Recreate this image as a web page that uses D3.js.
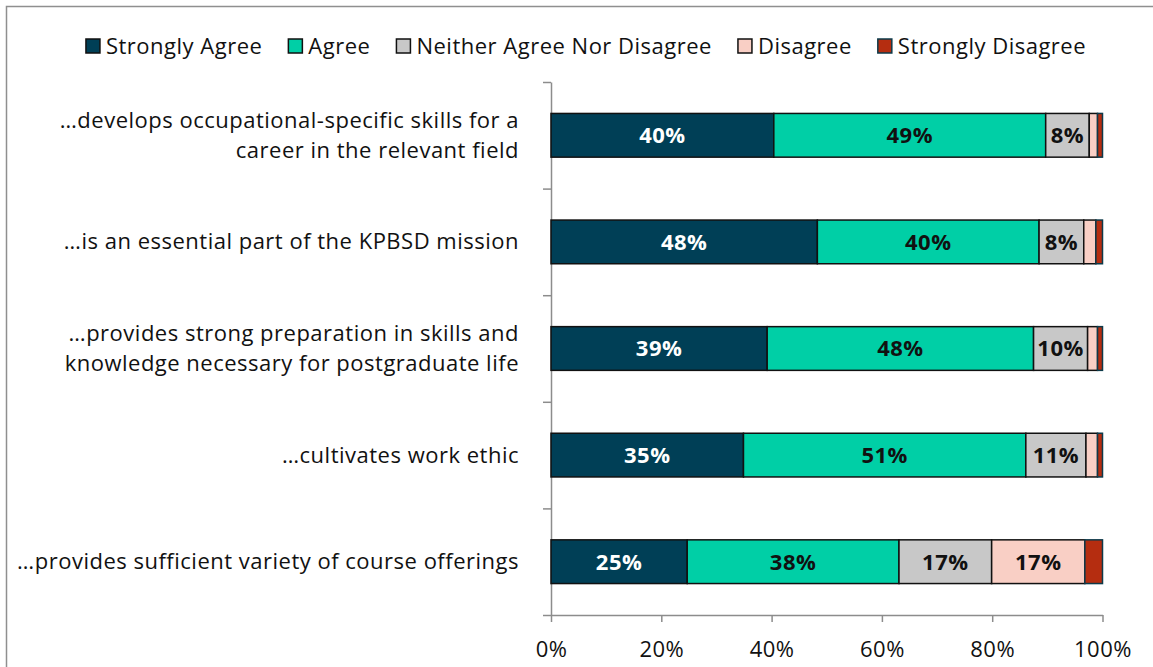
<!DOCTYPE html>
<html lang="en">
<head>
    <meta charset="UTF-8">
    <script src="https://d3js.org/d3.v7.min.js"></script>
    <title>Survey stacked bars</title>
    <style>
        body { margin: 0; background: #fff; }
        svg text { font-family: "Open Sans", Lato, sans-serif; letter-spacing: 0.5px; }
    </style>
</head>
<body>
    <script>
        const categories = [
            ["…develops occupational-specific skills for a", "career in the relevant field"],
            ["…is an essential part of the KPBSD mission"],
            ["…provides strong preparation in skills and", "knowledge necessary for postgraduate life"],
            ["…cultivates work ethic"],
            ["…provides sufficient variety of course offerings"]
        ];
        const seriesNames = ["Strongly Agree", "Agree", "Neither Agree Nor Disagree", "Disagree", "Strongly Disagree"];
        const stronglyAgree = [40.4, 48.3, 39.2, 34.9, 24.7];
        const agree = [49.3, 40.2, 48.3, 51.2, 38.4];
        const neither = [7.9, 8.1, 9.8, 10.9, 16.8];
        const disagree = [1.5, 2.2, 1.8, 2.1, 16.9];
        const stronglyDisagree = [0.9, 1.2, 0.9, 0.9, 3.2];
        const xTicks = [0, 20, 40, 60, 80, 100];

        const colors = ["#003f56", "#00cfa6", "#c8c8c8", "#f9cfc5", "#b52d10"];
        const strokes = ["#111", "#111", "#111", "#111", "#0d3a4a"];
        const labelColors = ["#fff", "#111", "#111", "#111", "#fff"];

        const width = 1153, height = 667;
        const margin = {top: 82, right: 50, bottom: 52, left: 551};
        const fs = 22;

        const rows = categories.map((c, i) => ({
            key: i,
            "Strongly Agree": stronglyAgree[i],
            "Agree": agree[i],
            "Neither Agree Nor Disagree": neither[i],
            "Disagree": disagree[i],
            "Strongly Disagree": stronglyDisagree[i]
        }));
        const stacked = d3.stack().keys(seriesNames)(rows);

        const x = d3.scaleLinear()
            .domain([0, 100])
            .range([margin.left, 1102.5]);

        const y = d3.scaleBand()
            .domain(d3.range(categories.length))
            .range([margin.top, height - margin.bottom])
            .paddingInner(0.59)
            .paddingOuter(0.295);

        const yEdge = d3.scaleLinear()
            .domain([0, categories.length])
            .range([margin.top, height - margin.bottom]);

        const svg = d3.select('body')
            .append('svg')
            .attr('width', width)
            .attr('height', height);

        // chart frame
        svg.append('rect')
            .attr('x', 6.5).attr('y', 6.5)
            .attr('width', width + 20).attr('height', height + 20)
            .attr('fill', 'none')
            .attr('stroke', '#8f8f8f')
            .attr('stroke-width', 1.5);

        // axes
        const xAxis = svg.append('g')
            .attr('transform', `translate(0, ${height - margin.bottom})`)
            .call(d3.axisBottom(x).tickValues(xTicks).tickFormat(d => d + '%').tickSize(7).tickSizeOuter(0))
        xAxis.selectAll('path, line').attr('stroke', '#8c8c8c').attr('stroke-width', 1.5);
        xAxis.selectAll('text')
            .attr('font-size', fs)
            .attr('fill', '#111')
            .attr('dy', '1.45em');

        const yAxis = svg.append('g')
            .attr('transform', `translate(${margin.left}, 0)`)
            .call(d3.axisLeft(yEdge).tickValues(d3.range(categories.length + 1)).tickFormat('').tickSize(8).tickSizeOuter(0));
        yAxis.selectAll('path, line').attr('stroke', '#8c8c8c').attr('stroke-width', 1.5);

        // bars
        const layer = svg.selectAll('.layer')
            .data(stacked).enter()
            .append('g')
            .attr('class', 'layer');

        layer.selectAll('rect')
            .data((d, i) => d.map(p => ({p, i})))
            .enter()
            .append('rect')
            .attr('x', d => x(d.p[0]))
            .attr('y', d => y(d.p.data.key))
            .attr('width', d => x(d.p[1]) - x(d.p[0]))
            .attr('height', y.bandwidth())
            .attr('fill', d => colors[d.i])
            .attr('stroke', d => strokes[d.i])
            .attr('stroke-width', 1.5);

        layer.selectAll('text')
            .data((d, i) => d.map(p => ({p, i})).filter(d => d.p[1] - d.p[0] >= 5))
            .enter()
            .append('text')
            .attr('x', d => (x(d.p[0]) + x(d.p[1])) / 2)
            .attr('y', d => y(d.p.data.key) + y.bandwidth() / 2)
            .attr('dy', '0.36em')
            .attr('text-anchor', 'middle')
            .attr('font-size', fs)
            .attr('font-weight', 'bold')
            .attr('fill', d => labelColors[d.i])
            .text(d => Math.round(d.p[1] - d.p[0]) + '%');

        // category labels
        const catLabels = svg.selectAll('.cat')
            .data(categories).enter()
            .append('text')
            .attr('class', 'cat')
            .attr('text-anchor', 'end')
            .attr('font-size', fs)
            .attr('fill', '#111')
            .attr('x', 519)
            .attr('y', (d, i) => y(i) + y.bandwidth() / 2);

        catLabels.selectAll('tspan')
            .data(d => d.map((line, j) => ({line, j, n: d.length})))
            .enter()
            .append('tspan')
            .attr('x', 519)
            .attr('dy', d => d.j === 0 ? ((-(d.n - 1) * 15) + 7.5) + 'px' : '30px')
            .text(d => d.line);

        // legend
        const legend = svg.append('g');
        const items = legend.selectAll('g')
            .data(seriesNames).enter()
            .append('g');
        items.append('rect')
            .attr('width', 14).attr('height', 14)
            .attr('y', -7)
            .attr('fill', (d, i) => colors[i])
            .attr('stroke', (d, i) => i === 4 ? '#0d3a4a' : '#111')
            .attr('stroke-width', 1.5);
        items.append('text')
            .attr('x', 20)
            .attr('dy', '0.36em')
            .attr('font-size', fs)
            .attr('fill', '#111')
            .text(d => d);

        let offset = 0;
        const gap = 26;
        items.each(function() {
            const w = this.getBBox().width;
            d3.select(this).attr('data-off', offset);
            offset += w + gap;
        });
        const totalW = offset - gap;
        const startX = 586 - totalW / 2;
        items.attr('transform', function() {
            return `translate(${startX + (+this.getAttribute('data-off'))}, 46)`;
        });
    </script>
</body>
</html>
